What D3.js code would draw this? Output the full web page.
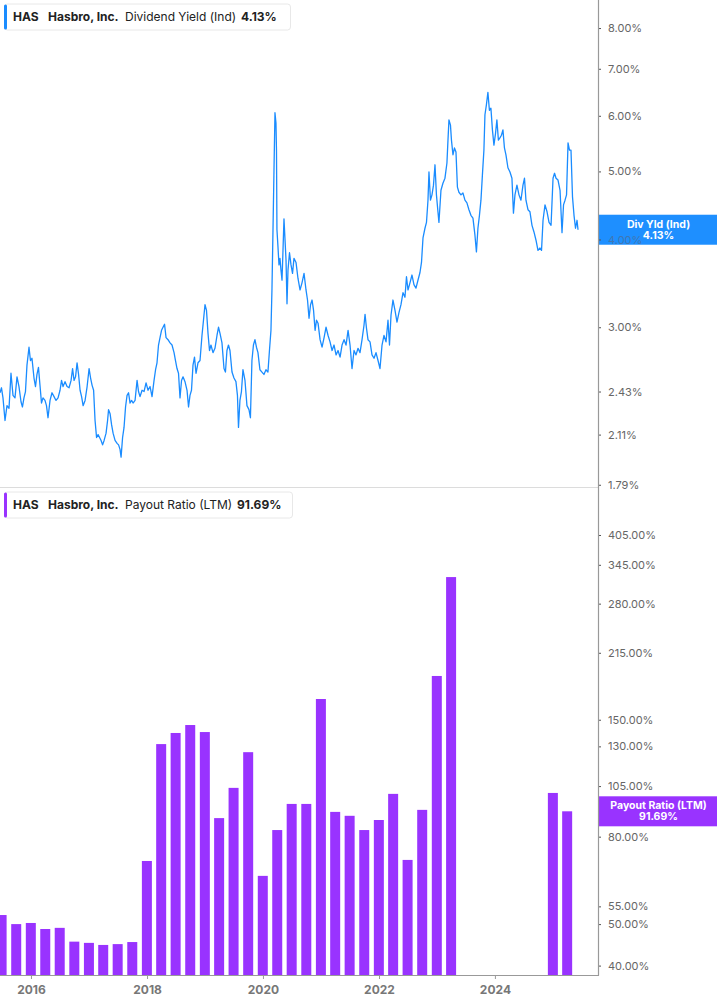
<!DOCTYPE html>
<html><head><meta charset="utf-8">
<script src="https://cdn.jsdelivr.net/npm/d3@7"></script>
<style>
body{margin:0;background:#fff;}
svg{display:block;font-family:Inter,"Noto Sans",sans-serif;}
</style>
</head><body>
<svg id="c" width="717" height="1005"></svg>
<script>
// ---------- DATA ----------
const yieldYears = [
2015.466,2015.491,2015.517,2015.552,2015.586,2015.621,2015.655,2015.690,2015.724,2015.759,2015.793,2015.828,2015.853,2015.879,2015.905,2015.931,2015.966,2015.991,
2016.017,2016.052,2016.078,2016.103,2016.129,2016.155,2016.181,2016.207,2016.241,2016.267,2016.293,2016.328,2016.362,2016.397,2016.431,2016.466,2016.500,2016.526,2016.552,2016.586,2016.621,2016.655,2016.690,2016.716,2016.741,2016.767,2016.793,2016.819,2016.845,2016.871,2016.897,2016.931,2016.966,
2017.000,2017.026,2017.052,2017.078,2017.103,2017.129,2017.155,2017.181,2017.207,2017.233,2017.259,2017.293,2017.319,2017.336,2017.362,2017.388,2017.414,2017.448,2017.483,2017.509,2017.534,2017.552,2017.578,2017.603,2017.629,2017.655,2017.681,2017.707,2017.733,2017.759,2017.793,2017.828,2017.853,2017.879,2017.914,2017.948,2017.983,
2018.017,2018.052,2018.086,2018.121,2018.147,2018.172,2018.198,2018.224,2018.250,2018.276,2018.302,2018.328,2018.362,2018.397,2018.431,2018.466,2018.491,2018.517,2018.543,2018.569,2018.595,2018.621,2018.655,2018.690,2018.716,2018.741,2018.767,2018.793,2018.819,2018.845,2018.879,2018.914,2018.948,2018.974,
2019.000,2019.026,2019.052,2019.078,2019.103,2019.138,2019.172,2019.207,2019.233,2019.259,2019.293,2019.328,2019.353,2019.379,2019.405,2019.431,2019.466,2019.500,2019.534,2019.560,2019.578,2019.603,2019.629,2019.655,2019.690,2019.724,2019.759,2019.784,2019.810,2019.836,2019.862,2019.888,2019.914,2019.948,2019.983,
2020.017,2020.052,2020.086,2020.112,2020.138,2020.155,2020.172,2020.190,2020.207,2020.224,2020.233,2020.241,2020.259,2020.276,2020.293,2020.310,2020.328,2020.345,2020.362,2020.379,2020.397,2020.414,2020.431,2020.457,2020.483,2020.509,2020.534,2020.569,2020.603,2020.638,2020.672,2020.707,2020.741,2020.767,2020.793,2020.819,2020.845,2020.871,2020.897,2020.922,2020.948,2020.983,
2021.017,2021.052,2021.086,2021.121,2021.155,2021.190,2021.224,2021.259,2021.293,2021.328,2021.362,2021.397,2021.431,2021.466,2021.500,2021.534,2021.569,2021.603,2021.638,2021.672,2021.707,2021.741,2021.759,2021.784,2021.810,2021.845,2021.879,2021.914,2021.948,2021.983,
2022.017,2022.052,2022.086,2022.121,2022.155,2022.181,2022.207,2022.241,2022.276,2022.310,2022.345,2022.379,2022.414,2022.448,2022.474,2022.500,2022.534,2022.569,2022.603,2022.638,2022.672,2022.707,2022.733,2022.759,2022.793,2022.819,2022.845,2022.862,2022.888,2022.914,2022.940,2022.966,2022.991,
2023.017,2023.034,2023.069,2023.103,2023.138,2023.172,2023.190,2023.207,2023.233,2023.250,2023.276,2023.302,2023.328,2023.353,2023.379,2023.414,2023.448,2023.483,2023.517,2023.552,2023.586,2023.621,2023.655,2023.681,2023.707,2023.733,2023.759,2023.784,2023.810,2023.828,2023.853,2023.879,2023.905,2023.931,2023.957,2023.983,
2024.009,2024.034,2024.060,2024.086,2024.112,2024.138,2024.164,2024.190,2024.224,2024.259,2024.293,2024.319,2024.345,2024.379,2024.414,2024.448,2024.483,2024.509,2024.534,2024.569,2024.603,2024.638,2024.672,2024.707,2024.741,2024.776,2024.802,2024.828,2024.862,2024.897,2024.931,2024.966,
2025.000,2025.026,2025.052,2025.086,2025.121,2025.155,2025.181,2025.207,2025.233,2025.259,2025.284,2025.310,2025.336,2025.362,2025.388,2025.414,2025.431
];
const yieldValues = [
2.42,2.46,2.38,2.21,2.32,2.30,2.58,2.40,2.38,2.55,2.47,2.35,2.31,2.38,2.43,2.65,2.81,2.69,
2.71,2.54,2.47,2.57,2.63,2.48,2.34,2.38,2.36,2.32,2.23,2.36,2.42,2.39,2.36,2.38,2.44,2.52,2.47,2.51,2.47,2.46,2.52,2.62,2.52,2.55,2.67,2.57,2.44,2.39,2.32,2.36,2.47,
2.62,2.54,2.48,2.44,2.21,2.09,2.11,2.09,2.07,2.04,2.07,2.12,2.21,2.29,2.26,2.18,2.12,2.07,2.05,2.04,2.01,1.96,2.09,2.16,2.31,2.40,2.42,2.34,2.36,2.34,2.36,2.52,2.43,2.39,2.44,2.43,2.50,
2.44,2.47,2.39,2.52,2.61,2.67,2.83,2.90,2.97,3.00,3.03,2.90,2.88,2.85,2.83,2.76,2.69,2.62,2.58,2.38,2.52,2.55,2.51,2.44,2.31,2.40,2.44,2.65,2.72,2.58,2.67,2.69,2.92,3.07,
3.23,3.17,2.94,2.78,2.83,2.76,2.80,2.92,3.00,2.94,2.85,2.62,2.59,2.78,2.83,2.78,2.59,2.54,2.51,2.40,2.16,2.36,2.43,2.61,2.52,2.32,2.29,2.23,2.69,2.83,2.88,2.81,2.76,2.61,2.59,
2.57,2.61,2.59,2.78,2.97,3.39,4.09,5.02,6.06,5.86,5.36,4.13,3.90,3.68,3.76,3.62,3.50,3.86,4.28,4.01,3.74,3.24,3.62,3.83,3.68,3.58,3.76,3.71,3.52,3.39,3.47,3.58,3.39,3.28,3.09,3.23,3.28,3.17,2.97,3.07,3.04,2.88,
2.81,2.90,3.00,2.92,2.86,2.78,2.83,2.74,2.78,2.72,2.83,2.88,2.83,2.97,2.83,2.62,2.78,2.74,2.80,2.76,2.88,3.02,3.13,2.99,2.88,2.86,2.74,2.71,2.76,2.69,
2.62,2.83,2.92,2.86,3.07,2.83,3.12,3.28,3.17,3.05,3.15,3.23,3.36,3.31,3.54,3.39,3.47,3.56,3.45,3.41,3.50,3.59,3.71,4.02,4.15,4.23,4.55,4.99,4.55,4.63,4.78,5.11,4.63,
4.38,4.23,4.70,4.81,4.89,5.14,5.54,5.92,5.82,5.54,5.28,5.40,5.33,4.75,4.67,4.63,4.66,4.55,4.51,4.41,4.33,4.29,4.06,3.84,4.15,4.33,4.55,4.94,5.36,6.02,6.22,6.48,6.11,6.15,5.73,5.45,
5.65,5.92,5.54,5.58,5.63,5.73,5.40,5.28,5.06,4.99,4.89,4.36,4.63,4.78,4.63,4.55,4.78,4.89,4.55,4.41,4.38,4.19,4.10,3.99,3.86,3.89,3.86,4.26,4.48,4.38,4.23,4.19,
4.89,4.97,4.89,4.86,4.70,4.09,4.48,4.55,4.63,5.49,5.36,5.36,4.60,4.33,4.15,4.26,4.13
];
const payoutQuarters = ["2015-06-30","2015-09-30","2015-12-31","2016-03-31","2016-06-30","2016-09-30","2016-12-31","2017-03-31","2017-06-30","2017-09-30","2017-12-31","2018-03-31","2018-06-30","2018-09-30","2018-12-31","2019-03-31","2019-06-30","2019-09-30","2019-12-31","2020-03-31","2020-06-30","2020-09-30","2020-12-31","2021-03-31","2021-06-30","2021-09-30","2021-12-31","2022-03-31","2022-06-30","2022-09-30","2022-12-31","2023-03-31","2023-06-30","2023-09-30","2023-12-31","2024-03-31","2024-06-30","2024-09-30","2024-12-31","2025-03-31"];
const payoutValues = [52.5,50.0,50.3,48.7,49.0,45.5,45.2,44.7,44.9,45.4,70.2,131.6,139.7,145.8,140.4,88.4,104.0,126.0,64.8,82.9,95.4,95.4,167.7,91.4,89.5,82.9,87.5,100.7,70.6,92.4,189.8,323.0,null,null,null,null,null,null,101.2,91.69];
const yieldTicks = [8,7,6,5,4,3,2.43,2.11,1.79];
const payoutTicks = [405,345,280,215,150,130,105,80,55,50,40];
const yearTicks = [2016,2018,2020,2022,2024];
const lastYield = 4.13, lastPayout = 91.69;

// ---------- HELPERS ----------
function decToDate(t){const y=Math.floor(t);const s=new Date(y,0,1),e=new Date(y+1,0,1);return new Date(s.getTime()+(t-y)*(e-s));}
const parseD = d3.timeParse("%Y-%m-%d");
const fmt = v => v.toFixed(2)+"%";

const W=717, PR=598;
const svg=d3.select("#c");

const x=d3.scaleTime().domain([decToDate(2015.4655),decToDate(2025.776)]).range([0,PR]);
const yTop=d3.scaleLog().domain([1.777,8.77]).range([487,0]);
const yBot=d3.scaleLog().domain([38.03,521.4]).range([975,488]);

svg.append("defs").append("clipPath").attr("id","clip").append("rect").attr("x",0).attr("y",0).attr("width",PR).attr("height",975);

// separator
svg.append("line").attr("x1",0).attr("x2",PR).attr("y1",487.5).attr("y2",487.5).attr("stroke","#dcdcdc").attr("stroke-width",1.2);

// line
const lineData=yieldYears.map((t,i)=>({d:decToDate(t),v:yieldValues[i]}));
svg.append("path").datum(lineData).attr("clip-path","url(#clip)")
 .attr("fill","none").attr("stroke","#1a8cff").attr("stroke-width",1.3).attr("stroke-linejoin","round")
 .attr("d",d3.line().x(d=>x(d.d)).y(d=>yTop(d.v)));

// bars
const barData=payoutQuarters.map((q,i)=>({d:parseD(q),v:payoutValues[i]})).filter(d=>d.v!=null);
svg.append("g").attr("clip-path","url(#clip)").selectAll("rect").data(barData).join("rect")
 .attr("x",d=>x(d.d)-5).attr("width",10)
 .attr("y",d=>yBot(d.v)).attr("height",d=>975-yBot(d.v))
 .attr("fill","#9933ff");

// value tag boxes (drawn under the tick labels, like the reference)
function tagBox(yv,color){
 svg.append("rect").attr("x",PR).attr("y",yv-15).attr("width",W-PR).attr("height",30).attr("fill",color);
}
tagBox(yTop(lastYield),"#1e8fff");
tagBox(yBot(lastPayout),"#9933ff");

// right axis
const rAxisT=svg.append("g").attr("transform",`translate(${PR},0)`)
 .call(d3.axisRight(yTop).tickValues(yieldTicks).tickFormat(fmt).tickSize(3).tickPadding(7));
const rAxisB=svg.append("g").attr("transform",`translate(${PR},0)`)
 .call(d3.axisRight(yBot).tickValues(payoutTicks).tickFormat(fmt).tickSize(3).tickPadding(7));
[rAxisT,rAxisB].forEach(g=>{
 g.select(".domain").remove();
 g.selectAll(".tick line").attr("stroke","#555");
 g.selectAll(".tick text").attr("fill","#666").attr("font-size",11).attr("font-family","Inter,sans-serif");
});
rAxisT.selectAll(".tick").filter(d=>d===4).select("text").attr("fill","#4a6f9a").attr("opacity",0.75);
svg.append("line").attr("x1",PR+0.5).attr("x2",PR+0.5).attr("y1",0).attr("y2",975.5).attr("stroke","#999").attr("stroke-width",1.2);

// bottom axis
const xAxis=svg.append("g").attr("transform","translate(0,975)")
 .call(d3.axisBottom(x).tickValues(yearTicks.map(y=>new Date(y,0,1))).tickFormat(d3.timeFormat("%Y")).tickSize(4).tickPadding(6));
xAxis.select(".domain").remove();
xAxis.selectAll(".tick line").attr("stroke","#999");
xAxis.selectAll(".tick text").attr("fill","#777").attr("font-size",12).attr("font-weight",700).attr("font-family","Inter,sans-serif");
svg.append("line").attr("x1",0).attr("x2",PR+1).attr("y1",975.5).attr("y2",975.5).attr("stroke","#999").attr("stroke-width",1.2);

// tag texts (one text element, two lines)
function tagText(yv,l1,l2){
 const t=svg.append("text").attr("text-anchor","middle").attr("fill","#fff").attr("font-size",10.5).attr("font-weight",700);
 t.append("tspan").attr("x",(PR+W)/2+1).attr("y",yv-2).text(l1);
 t.append("tspan").attr("x",(PR+W)/2+1).attr("y",yv+9).text(l2);
}
tagText(yTop(lastYield),"Div Yld (Ind)",fmt(lastYield));
tagText(yBot(lastPayout),"Payout Ratio (LTM)",fmt(lastPayout));

// legends
function legend(top,color,metric,val,w,valX){
 const g=svg.append("g");
 g.append("rect").attr("x",4.5).attr("y",top+0.5).attr("width",w).attr("height",26).attr("rx",3).attr("fill","#fff").attr("stroke","#e8e8e8");
 g.append("rect").attr("x",4).attr("y",top+1).attr("width",3).attr("height",25).attr("rx",1.5).attr("fill",color);
 const by=top+17.5;
 g.append("text").attr("x",13).attr("y",by).attr("font-size",12).attr("font-weight",700).attr("fill","#222").text("HAS");
 g.append("text").attr("x",48).attr("y",by).attr("font-size",12).attr("font-weight",700).attr("fill","#222").text("Hasbro, Inc.");
 g.append("text").attr("x",125).attr("y",by).attr("font-size",12).attr("fill","#222").text(metric);
 g.append("text").attr("x",valX).attr("y",by).attr("font-size",12).attr("font-weight",700).attr("fill","#222").text(val);
}
legend(3.5,"#1a8cff","Dividend Yield (Ind)",fmt(lastYield),286,241);
legend(491.5,"#9933ff","Payout Ratio (LTM)",fmt(lastPayout),288,237);
</script>
</body></html>
